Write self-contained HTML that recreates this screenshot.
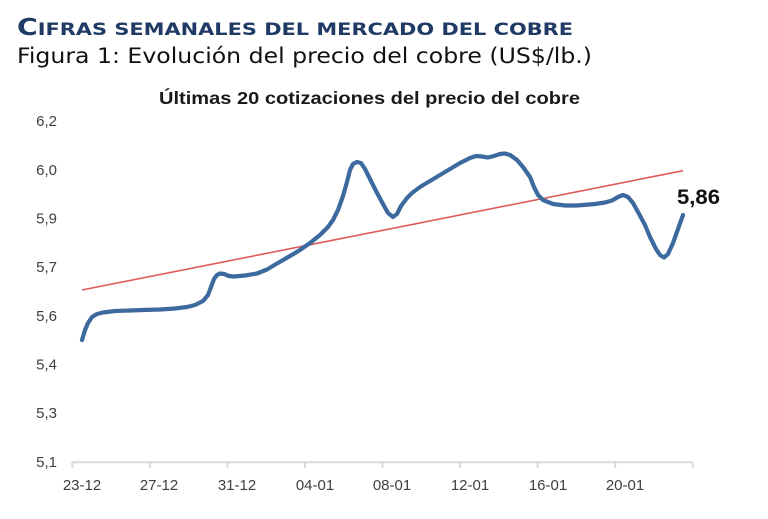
<!DOCTYPE html>
<html>
<head>
<meta charset="utf-8">
<style>
  html, body { margin: 0; padding: 0; background: #ffffff; }
  body { width: 768px; height: 519px; overflow: hidden; }
  svg { display: block; }
</style>
</head>
<body>
<svg width="768" height="519" viewBox="0 0 768 519" xmlns="http://www.w3.org/2000/svg">
  <rect x="0" y="0" width="768" height="519" fill="#ffffff"/>

  <!-- Headings -->
  <text x="17" y="35" font-family="'DejaVu Sans', Verdana, sans-serif" font-weight="bold" fill="#1f3a64" textLength="556" lengthAdjust="spacingAndGlyphs"><tspan font-size="23">C</tspan><tspan font-size="17">IFRAS SEMANALES DEL MERCADO DEL COBRE</tspan></text>
  <text x="17" y="63" font-family="'DejaVu Sans', Verdana, sans-serif" font-size="21" fill="#111111" textLength="575" lengthAdjust="spacingAndGlyphs">Figura 1: Evolución del precio del cobre (US$/lb.)</text>

  <!-- Chart title -->
  <text x="159" y="104" font-family="'Liberation Sans', Arial, sans-serif" font-weight="bold" font-size="17.5" fill="#1a1a1a" textLength="421" lengthAdjust="spacingAndGlyphs">Últimas 20 cotizaciones del precio del cobre</text>

  <!-- Y axis labels -->
  <g font-family="'Liberation Sans', Arial, sans-serif" font-size="15" fill="#404040" text-anchor="end">
    <text x="57" y="126">6,2</text>
    <text x="57" y="175">6,0</text>
    <text x="57" y="223.5">5,9</text>
    <text x="57" y="272">5,7</text>
    <text x="57" y="321">5,6</text>
    <text x="57" y="369.5">5,4</text>
    <text x="57" y="418">5,3</text>
    <text x="57" y="467">5,1</text>
  </g>

  <!-- X axis -->
  <line x1="72.3" y1="462.3" x2="692.7" y2="462.3" stroke="#d9d9d9" stroke-width="2"/>
  <g stroke="#d9d9d9" stroke-width="2">
    <line x1="72.3" y1="462" x2="72.3" y2="468"/>
    <line x1="149.9" y1="462" x2="149.9" y2="468"/>
    <line x1="227.4" y1="462" x2="227.4" y2="468"/>
    <line x1="305" y1="462" x2="305" y2="468"/>
    <line x1="382.5" y1="462" x2="382.5" y2="468"/>
    <line x1="460" y1="462" x2="460" y2="468"/>
    <line x1="537.6" y1="462" x2="537.6" y2="468"/>
    <line x1="615.2" y1="462" x2="615.2" y2="468"/>
    <line x1="692.7" y1="462" x2="692.7" y2="468"/>
  </g>
  <g font-family="'Liberation Sans', Arial, sans-serif" font-size="15" fill="#404040" text-anchor="middle">
    <text x="82" y="490">23-12</text>
    <text x="159" y="490">27-12</text>
    <text x="237" y="490">31-12</text>
    <text x="315" y="490">04-01</text>
    <text x="392" y="490">08-01</text>
    <text x="470" y="490">12-01</text>
    <text x="548" y="490">16-01</text>
    <text x="625" y="490">20-01</text>
  </g>

  <!-- Trend line -->
  <line x1="82" y1="290" x2="683" y2="170.7" stroke="#e05a5a" stroke-width="1.6"/>

  <!-- Price series -->
  <polyline fill="none" stroke="#3d6a9e" stroke-width="4.2" stroke-linejoin="round" stroke-linecap="round"
    points="82,340 85,330 88,323 92,317 97,314 103,312.5 115,311 130,310.5 143,310 160,309.5 175,308.5 187,307 195,305 203,301 208,295 211,287 214,279 217,275 220,273.5 224,274 229,276 234,276.5 245,275.5 257,273.5 267,269.5 277,263.5 290,256 300,250 310,243 320,235 328,227 333,220 338,210 343,196 347,182 350,170 353,164 357,162 361,163 365,169 370,179 376,191 383,204 388,213 393,217 397,214 401,206 407,198 412,193 420,187 430,181 440,175 450,169 460,163 470,158 476,156 482,156.5 488,157.5 494,156 500,154 505,153.5 510,155 517,160 523,167 530,177 534,187 538,195 543,200 553,204 565,205.5 577,205.5 595,204 605,202.5 612,200.5 618,197 623,195 628,197 633,203 638,212 645,225 650,237 656,249 660,255 664,257.5 668,254 673,243 678,229 683,215"/>

  <!-- Last value label -->
  <text x="677" y="204" font-family="'Liberation Sans', Arial, sans-serif" font-weight="bold" font-size="21" fill="#111111" textLength="43" lengthAdjust="spacingAndGlyphs">5,86</text>
</svg>
</body>
</html>
